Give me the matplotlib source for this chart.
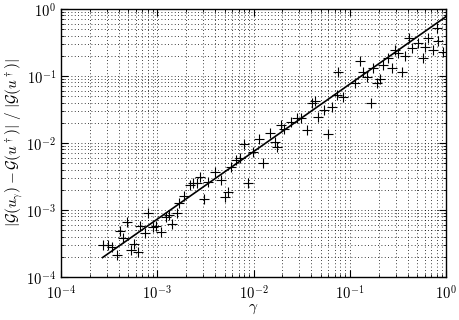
import math
import matplotlib
matplotlib.use("Agg")
import matplotlib.pyplot as plt
from matplotlib.ticker import LogLocator, FuncFormatter, NullFormatter

# gamma values and relative errors
gamma = [2.73e-4, 3.08e-4, 3.35e-4, 3.82e-4, 4.15e-4, 4.45e-4, 4.85e-4, 5.33e-4,
         5.73e-4, 6.38e-4, 6.62e-4, 7.46e-4, 8.11e-4, 8.93e-4, 9.71e-4, 1.09e-3,
         1.23e-3, 1.32e-3, 1.44e-3, 1.59e-3, 1.68e-3, 1.90e-3, 2.19e-3, 2.38e-3,
         2.59e-3, 2.78e-3, 3.03e-3, 3.37e-3, 3.94e-3, 4.59e-3, 5.00e-3, 5.47e-3,
         5.83e-3, 6.62e-3, 7.24e-3, 7.96e-3, 8.83e-3, 9.77e-3, 1.13e-2, 1.26e-2,
         1.48e-2, 1.67e-2, 1.74e-2, 1.95e-2, 2.07e-2, 2.45e-2, 2.80e-2, 3.12e-2,
         3.60e-2, 4.03e-2, 4.36e-2, 4.71e-2, 5.40e-2, 5.98e-2, 6.49e-2, 7.31e-2,
         7.60e-2, 8.57e-2, 0.1135, 0.1276, 0.138, 0.150, 0.165, 0.176,
         0.190, 0.206, 0.223, 0.252, 0.273, 0.295, 0.319, 0.347,
         0.375, 0.413, 0.441, 0.515, 0.570, 0.605, 0.655, 0.724,
         0.800, 0.832, 0.931]
rel_err = [3.0e-4, 3.0e-4, 2.85e-4, 2.13e-4, 4.86e-4, 3.76e-4, 6.73e-4, 2.57e-4,
           3.16e-4, 2.36e-4, 5.77e-4, 4.46e-4, 8.87e-4, 5.48e-4, 5.77e-4, 4.70e-4,
           7.73e-4, 8.28e-4, 6.18e-4, 8.93e-4, 1.27e-3, 1.59e-3, 2.36e-3, 2.49e-3,
           2.53e-3, 3.11e-3, 1.46e-3, 2.62e-3, 3.73e-3, 2.76e-3, 1.54e-3, 1.88e-3,
           4.38e-3, 5.52e-3, 5.97e-3, 9.66e-3, 2.50e-3, 7.22e-3, 1.15e-2, 4.98e-3,
           1.41e-2, 1.05e-2, 8.81e-3, 1.86e-2, 1.62e-2, 2.08e-2, 2.40e-2, 2.34e-2,
           1.56e-2, 4.02e-2, 4.24e-2, 2.47e-2, 3.11e-2, 1.34e-2, 3.48e-2, 5.20e-2,
           0.115, 4.91e-2, 7.78e-2, 0.1675, 0.116, 0.0977, 0.0391, 0.130,
           0.0778, 0.0902, 0.146, 0.184, 0.130, 0.244, 0.218, 0.113,
           0.199, 0.365, 0.259, 0.308, 0.184, 0.274, 0.365, 0.244,
           0.515, 0.333, 0.228]

# reference line
line_gamma = [2.7e-4, 1.0]
line_err = [1.95e-4, 0.77]

plt.rcParams['mathtext.fontset'] = 'cm'
plt.rcParams['font.family'] = ['DejaVu Serif']

fig = plt.figure(figsize=(4.6, 3.2), dpi=100)
ax = fig.add_axes([0.1326, 0.1344, 0.837, 0.8375])

ax.plot(gamma, rel_err, linestyle='none', marker='+', color='black',
        markersize=7, markeredgewidth=0.8)
ax.plot(line_gamma, line_err, color='black', linewidth=1.2)

ax.set_xscale('log')
ax.set_yscale('log')
ax.set_xlim(1e-4, 1)
ax.set_ylim(1e-4, 1)

ax.xaxis.set_major_locator(LogLocator(base=10, numticks=10))
ax.yaxis.set_major_locator(LogLocator(base=10, numticks=10))
ax.xaxis.set_minor_locator(LogLocator(base=10, subs=range(2, 10), numticks=20))
ax.yaxis.set_minor_locator(LogLocator(base=10, subs=range(2, 10), numticks=20))
fmt = FuncFormatter(lambda v, pos: r'$10^{%d}$' % round(math.log10(v)))
ax.xaxis.set_major_formatter(fmt)
ax.yaxis.set_major_formatter(fmt)
ax.xaxis.set_minor_formatter(NullFormatter())
ax.yaxis.set_minor_formatter(NullFormatter())

# sparse dotted grid, like the reference
ax.grid(True, which='both', linestyle=(0, (1, 3)), color='black', linewidth=0.6)
ax.tick_params(which='both', direction='in', top=True, right=True, labelsize=10.5)
ax.tick_params(which='major', length=5, width=0.8)
ax.tick_params(which='minor', length=2.5, width=0.6)
ax.tick_params(axis='x', which='major', pad=5)
for s in ax.spines.values():
    s.set_linewidth(1.0)

ax.set_xlabel(r'$\gamma$', fontsize=11, labelpad=0)
ax.set_ylabel(r'$|\mathcal{G}(u_\gamma)-\mathcal{G}(u^\dagger)|\ /\ |\mathcal{G}(u^\dagger)|$',
              fontsize=11, labelpad=1)

fig.savefig('out.png', dpi=100)
